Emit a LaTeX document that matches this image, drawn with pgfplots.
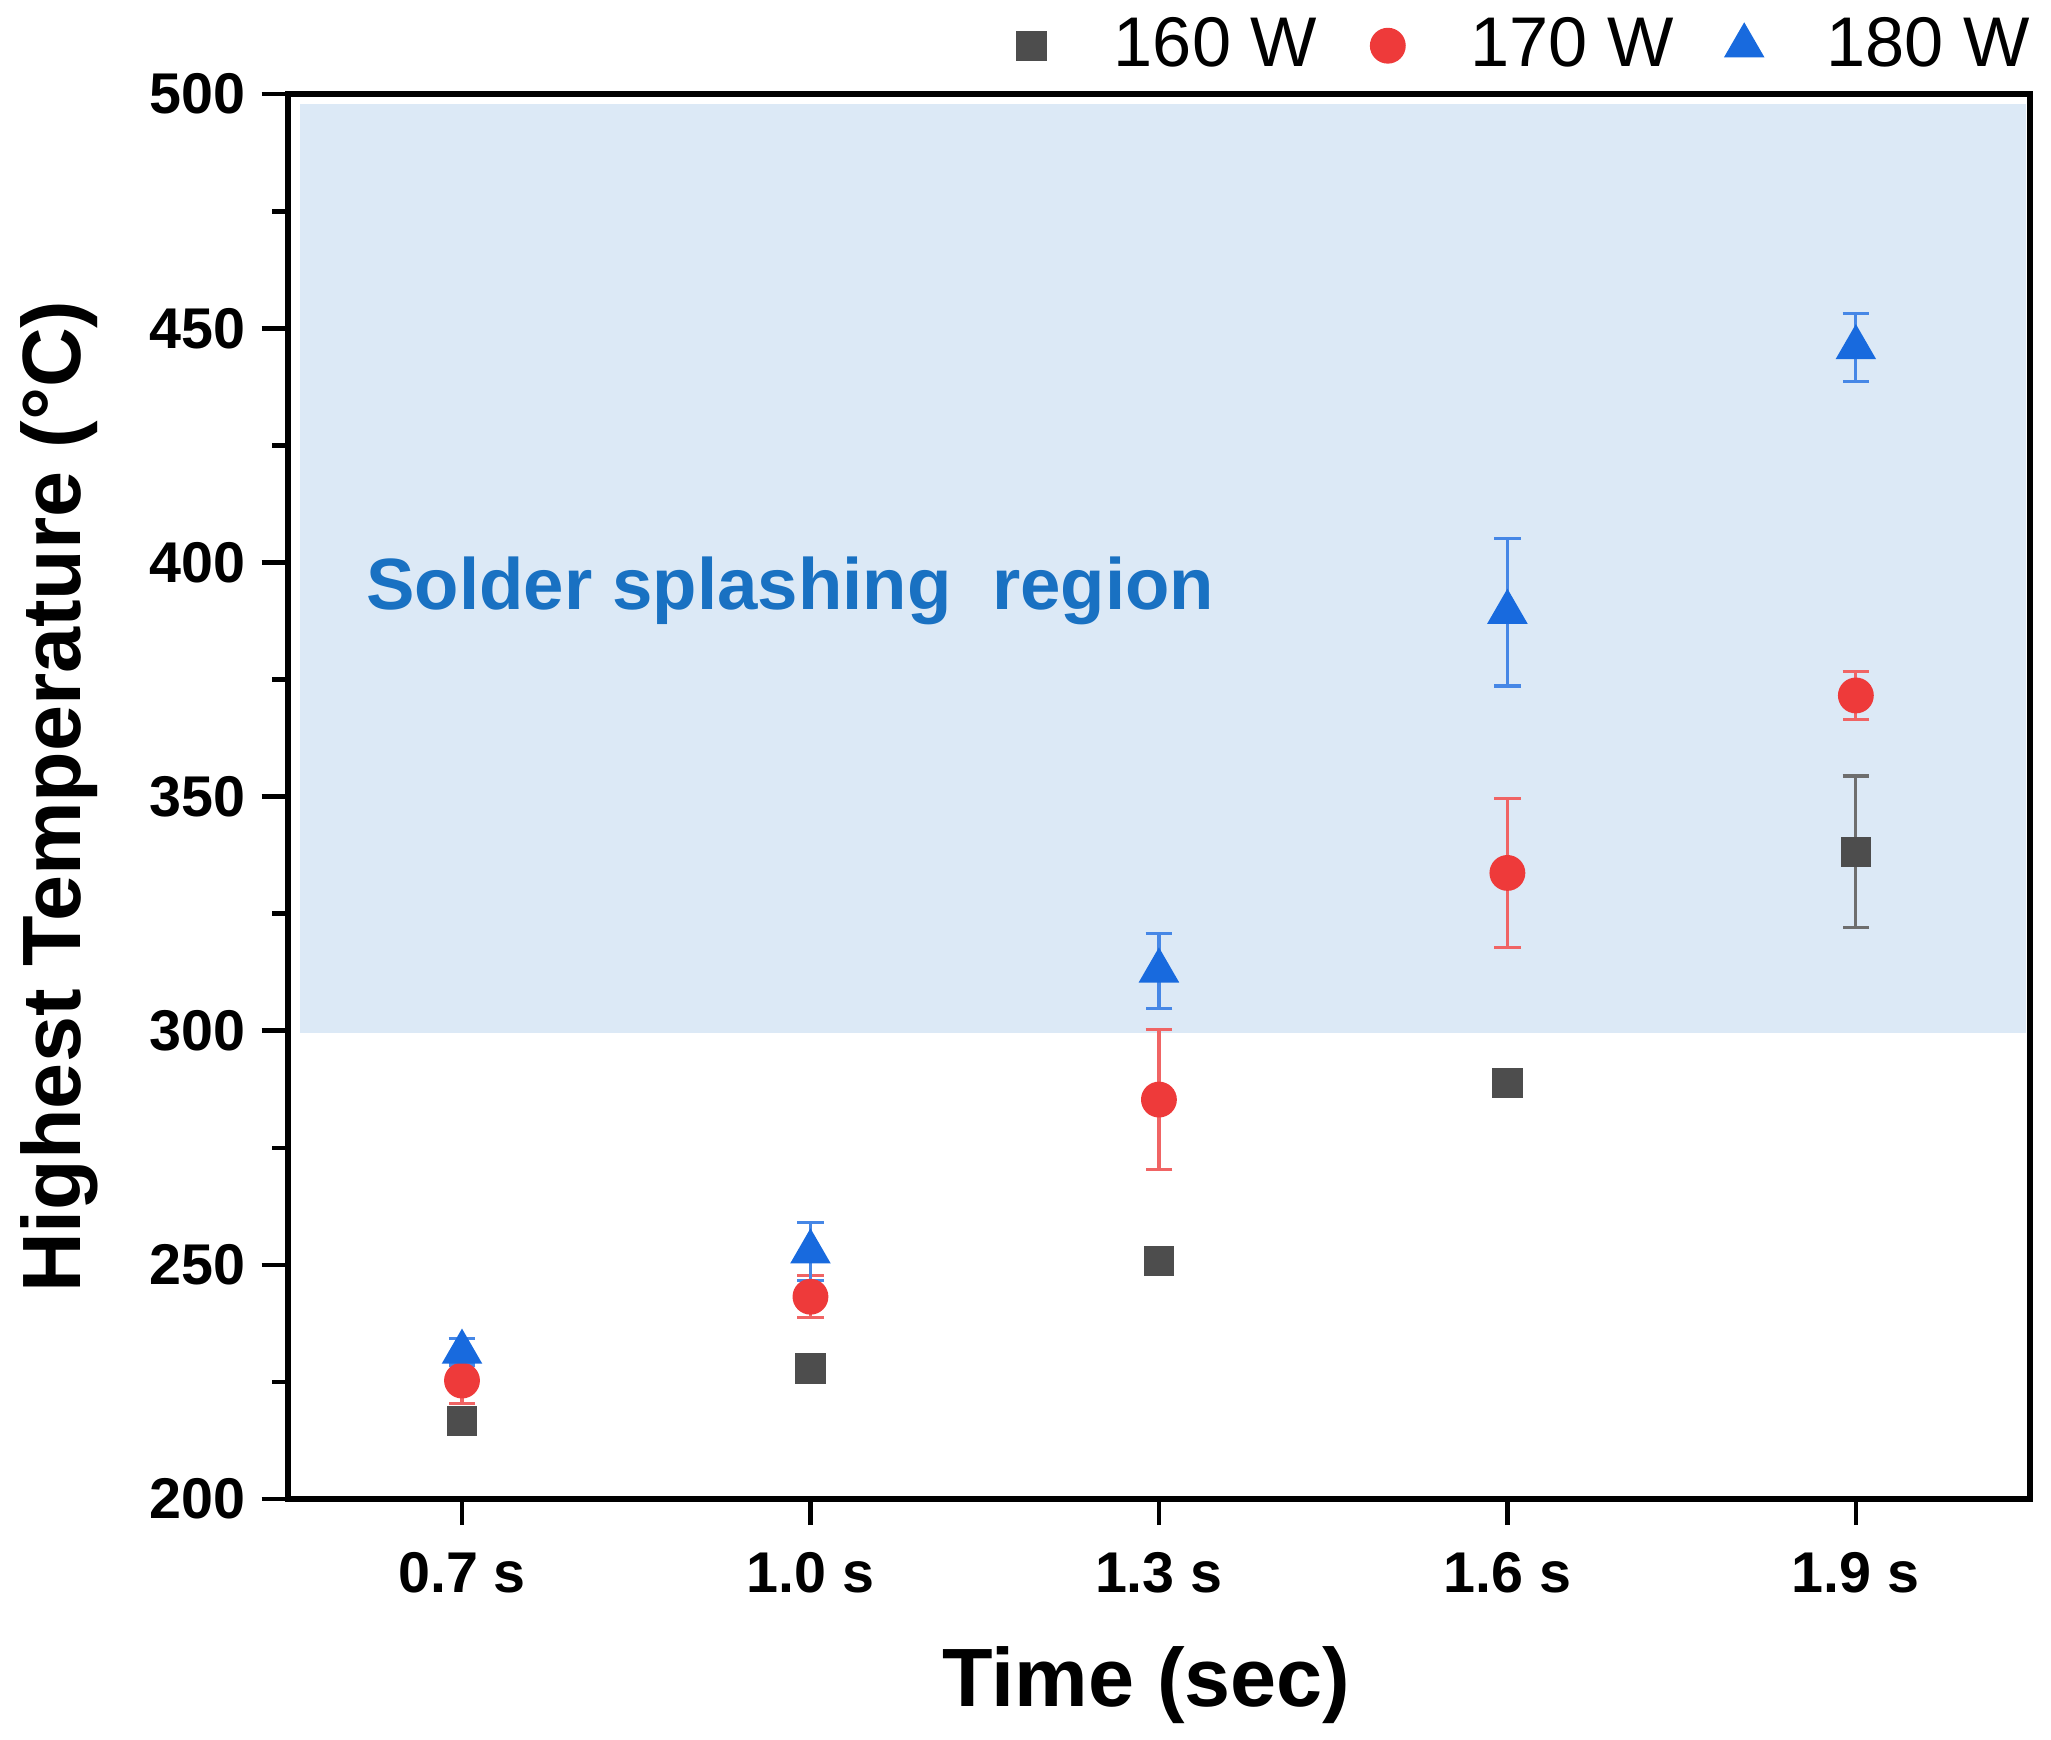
\documentclass[border=0pt]{standalone}
\usepackage{pgfplots}
\pgfplotsset{compat=1.18}
\usepackage{fontspec}
\setmainfont{Liberation Sans}
\definecolor{cgray}{RGB}{77,77,77}
\definecolor{cgrayE}{RGB}{110,110,110}
\definecolor{cred}{RGB}{238,58,58}
\definecolor{credE}{RGB}{240,100,100}
\definecolor{cblue}{RGB}{24,106,222}
\definecolor{cblueE}{RGB}{70,135,230}
\definecolor{shade}{RGB}{220,233,246}
\definecolor{txtblue}{RGB}{25,113,194}
\pgfplotstableread{
x y e
0 216.7 1.0
1 227.9 1.2
2 250.8 1.2
3 288.8 1.2
4 338.2 16.2
}\tabA
\pgfplotstableread{
x y e
0 225.3 4.9
1 243.2 4.5
2 285.3 15.0
3 333.7 15.9
4 371.6 5.1
}\tabB
\pgfplotstableread{
x y e
0 231.4 2.8
1 252.8 6.2
2 312.8 8.0
3 389.4 15.8
4 445.9 7.2
}\tabC
\begin{document}
\begin{tikzpicture}
\useasboundingbox (-2.20,-1.84) rectangle (13.48,11.46);
\begin{axis}[
  at={(0,0)}, anchor=south west,
  scale only axis, width=13.32cm, height=10.74cm,
  xmin=-0.5, xmax=4.5, ymin=200, ymax=500,
  xtick={0,1,2,3,4},
  xticklabels={0.7 s,1.0 s,1.3 s,1.6 s,1.9 s},
  ytick={200,250,...,500},
  minor ytick={225,275,...,475},
  tick align=outside, xtick pos=bottom, ytick pos=left,
  major tick length=0.2cm, minor tick length=0.12cm,
  every tick/.append style={black, line width=1pt},
  axis line style={line width=1.2pt},
  /pgf/number format/assume math mode=true,
  tick label style={font=\bfseries\fontsize{12.5}{14}\selectfont},
  xticklabel style={yshift=-0.08cm},
  xlabel={Time (sec)},
  ylabel={Highest Temperature (°C)},
  every axis x label/.style={at={(axis description cs:0.493,-0.1326)}, anchor=center,
    font=\bfseries\fontsize{18}{21}\selectfont},
  every axis y label/.style={at={(axis description cs:-0.1314,0.5)}, rotate=90, anchor=center,
    font=\bfseries\fontsize{18}{21}\selectfont},
  legend style={at={(1.0052,1.0345)}, anchor=east, draw=none, fill=none,
    inner sep=0pt, outer sep=0pt, legend columns=3,
    font=\fontsize{15.3}{17}\selectfont,
    /tikz/every even column/.append style={column sep=0pt}},
  legend image code/.code={\draw[draw=none] (0cm,0cm) -- (1.03cm,0cm);
    \draw[only marks] plot coordinates {(0.47cm,0cm)};},
]
\addplot[draw=none, fill=shade, forget plot] coordinates {(-0.464,299.6) (4.487,299.6) (4.487,497.8) (-0.464,497.8)} -- cycle;
\node[anchor=west, inner sep=0pt, text=txtblue, font=\bfseries\fontsize{15.8}{19}\selectfont] at (axis cs:-0.277,394.0) {Solder splashing\ \ region};

\addplot[only marks, mark=square*, mark size=3.1pt, color=cgray,
  error bars/.cd, y dir=both, y explicit,
  error bar style={line width=0.7pt, color=cgrayE},
  error mark options={rotate=90, mark size=2.9pt, line width=0.7pt, color=cgrayE}]
  table[x=x, y=y, y error=e] {\tabA};
\addlegendentry{160 W}
\addplot[only marks, mark=*, mark size=3.7pt, color=cred,
  error bars/.cd, y dir=both, y explicit,
  error bar style={line width=0.7pt, color=credE},
  error mark options={rotate=90, mark size=2.9pt, line width=0.7pt, color=credE}]
  table[x=x, y=y, y error=e] {\tabB};
\addlegendentry{170 W}
\addplot[only marks, mark=triangle*, mark size=4.7pt, color=cblue,
  error bars/.cd, y dir=both, y explicit,
  error bar style={line width=0.7pt, color=cblueE},
  error mark options={rotate=90, mark size=2.9pt, line width=0.7pt, color=cblueE}]
  table[x=x, y=y, y error=e] {\tabC};
\addlegendentry{180 W}
\end{axis}
\end{tikzpicture}
\end{document}
